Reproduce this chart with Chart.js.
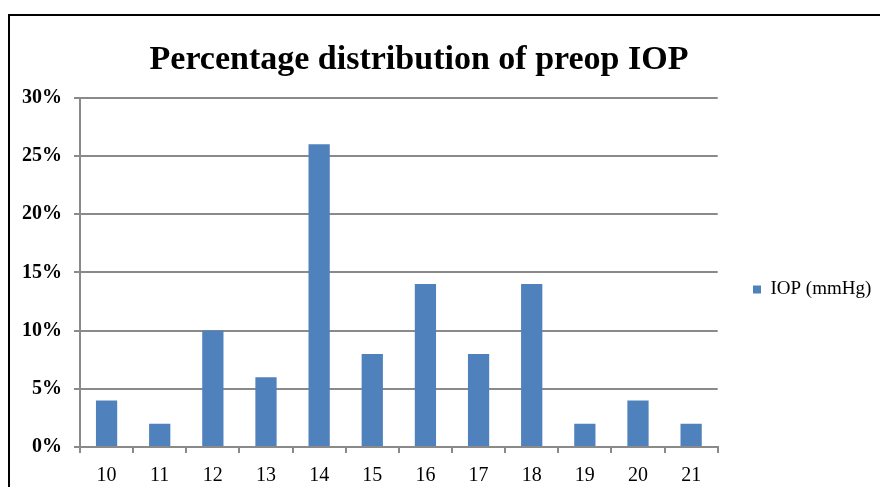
<!DOCTYPE html>
<html>
<head>
<meta charset="utf-8">
<script src="https://cdn.jsdelivr.net/npm/chart.js@4/dist/chart.umd.min.js"></script>
<style>
  html, body { margin: 0; padding: 0; background: #fff; }
  #wrap { width: 880px; height: 487px; }
</style>
</head>
<body>
<div id="wrap"><canvas id="c" width="880" height="487"></canvas></div>
<script>
'use strict';

const categories = ['10', '11', '12', '13', '14', '15', '16', '17', '18', '19', '20', '21'];
const iopValues = [4, 2, 10, 6, 26, 8, 14, 8, 14, 2, 4, 2];
const seriesName = 'IOP (mmHg)';
const yTicks = [0, 5, 10, 15, 20, 25, 30];

const serif = "'Liberation Serif', 'Times New Roman', serif";
const gridGray = '#8a8a8a';

// frame round the chart, cut off on the right and bottom like the source
const framePlugin = {
    id: 'frame',
    beforeDraw(chart) {
        const ctx = chart.ctx;
        ctx.save();
        ctx.strokeStyle = '#000';
        ctx.lineWidth = 2;
        ctx.beginPath();
        ctx.moveTo(9, chart.height + 2);
        ctx.lineTo(9, 15);
        ctx.lineTo(chart.width + 2, 15);
        ctx.stroke();
        ctx.restore();
    }
};

// nudge title and legend boxes to where the source puts them
const placePlugin = {
    id: 'place',
    afterLayout(chart) {
        const t = chart.titleBlock;
        if (t) {
            const w = t.right - t.left;
            t.left = 419 - w / 2;
            t.right = 419 + w / 2;
        }
        const lg = chart.legend;
        if (lg) {
            const dx = 743 - lg.left;
            lg.left += dx;
            lg.right += dx;
            lg.top += 46;
            lg.bottom += 46;
        }
    }
};

new Chart(document.getElementById('c'), {
    type: 'bar',
    data: {
        labels: categories,
        datasets: [{
            label: seriesName,
            data: iopValues,
            backgroundColor: '#4f81bd',
            borderWidth: 0,
            barPercentage: 0.4,
            categoryPercentage: 1
        }]
    },
    options: {
        responsive: false,
        animation: false,
        layout: { padding: { left: 10, right: 24, top: 0, bottom: 0 } },
        plugins: {
            title: {
                display: true,
                text: 'Percentage distribution of preop IOP',
                color: '#000',
                font: { family: serif, size: 34, weight: 'bold' },
                padding: { top: 40, bottom: 17 }
            },
            legend: {
                position: 'right',
                labels: {
                    color: '#000',
                    font: { family: serif, size: 19 },
                    boxWidth: 8,
                    boxHeight: 8,
                    padding: 10
                }
            },
            tooltip: { enabled: false }
        },
        scales: {
            x: {
                offset: true,
                grid: {
                    offset: true,
                    drawOnChartArea: false,
                    drawTicks: true,
                    tickLength: 6,
                    color: gridGray,
                    lineWidth: 2
                },
                border: { color: gridGray, width: 2 },
                ticks: {
                    color: '#000',
                    font: { family: serif, size: 20 },
                    padding: 11,
                    maxRotation: 0
                },
                afterFit(scale) { scale.height = 40; }
            },
            y: {
                min: 0,
                max: 30,
                afterBuildTicks(scale) {
                    scale.ticks = yTicks.map(v => ({ value: v }));
                },
                grid: {
                    color: gridGray,
                    lineWidth: 2,
                    drawTicks: true,
                    tickLength: 6
                },
                border: { color: gridGray, width: 2 },
                ticks: {
                    color: '#000',
                    font: { family: serif, size: 20, weight: 'bold' },
                    padding: 12,
                    callback: v => v + '%'
                },
                afterFit(scale) { scale.width = 70; }
            }
        }
    },
    plugins: [framePlugin, placePlugin]
});
</script>
</body>
</html>
